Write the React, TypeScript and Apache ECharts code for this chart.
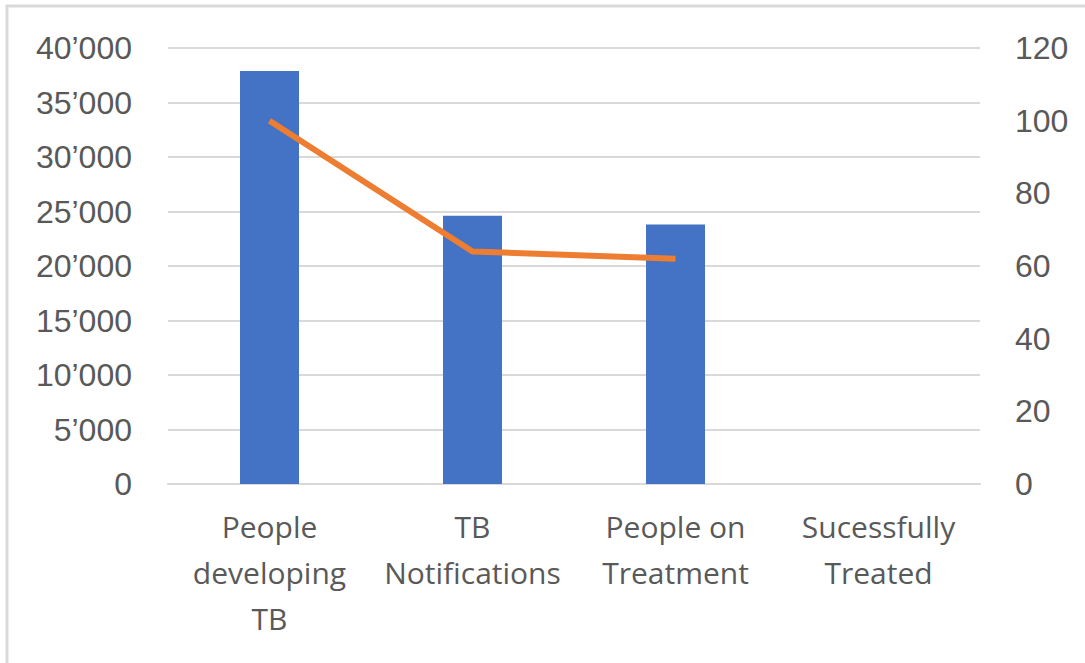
import React, { useEffect, useRef } from "react";
import * as echarts from "echarts";

const categories = [
  "People\ndeveloping\nTB",
  "TB\nNotifications",
  "People on\nTreatment",
  "Sucessfully\nTreated",
];
const barValues = [37900, 24600, 23800, 0];
const lineValues: (number | null)[] = [100, 64, 62, null];
const leftTicks = { min: 0, max: 40000, interval: 5000 };
const rightTicks = { min: 0, max: 120, interval: 20 };

const fmtThousands = (v: number) =>
  String(v).replace(/\B(?=(\d{3})+(?!\d))/g, "\u2019");

export default function App() {
  const ref = useRef<HTMLDivElement>(null);
  useEffect(() => {
    document.body.style.margin = "0";
    const chart = echarts.init(ref.current!, undefined, { renderer: "svg" });
    const numFont = "'Liberation Sans', Arial, sans-serif";
    const catFont = "'Open Sans', 'DejaVu Sans', sans-serif";
    chart.setOption({
      animation: false,
      backgroundColor: "#ffffff",
      graphic: [
        {
          type: "rect",
          shape: { x: 7, y: 6, width: 1200, height: 800 },
          style: { fill: "none", stroke: "#d9d9d9", lineWidth: 3 },
          silent: true,
        },
      ],
      grid: { left: 168, right: 105, top: 48, bottom: 179, containLabel: false },
      xAxis: {
        type: "category",
        data: categories,
        axisLine: { show: true, lineStyle: { color: "#d9d9d9", width: 2 } },
        axisTick: { show: false },
        axisLabel: {
          color: "#595959",
          fontFamily: catFont,
          fontSize: 30,
          lineHeight: 46,
          margin: 19,
          interval: 0,
        },
      },
      yAxis: [
        {
          type: "value",
          ...leftTicks,
          axisLine: { show: false },
          axisTick: { show: false },
          splitLine: { lineStyle: { color: "#d9d9d9", width: 2 } },
          axisLabel: {
            color: "#595959",
            fontFamily: numFont,
            fontSize: 32,
            margin: 36,
            formatter: (v: number) => fmtThousands(v),
          },
        },
        {
          type: "value",
          ...rightTicks,
          axisLine: { show: false },
          axisTick: { show: false },
          splitLine: { show: false },
          axisLabel: {
            color: "#595959",
            fontFamily: numFont,
            fontSize: 32,
            margin: 35,
          },
        },
      ],
      series: [
        {
          type: "bar",
          data: barValues,
          barWidth: 59,
          itemStyle: { color: "#4472C4" },
        },
        {
          type: "line",
          yAxisIndex: 1,
          data: lineValues,
          symbol: "none",
          lineStyle: { color: "#ED7D31", width: 6 },
          connectNulls: false,
        },
      ],
    });
    return () => chart.dispose();
  }, []);
  return <div ref={ref} style={{ width: 1085, height: 663 }} />;
}
